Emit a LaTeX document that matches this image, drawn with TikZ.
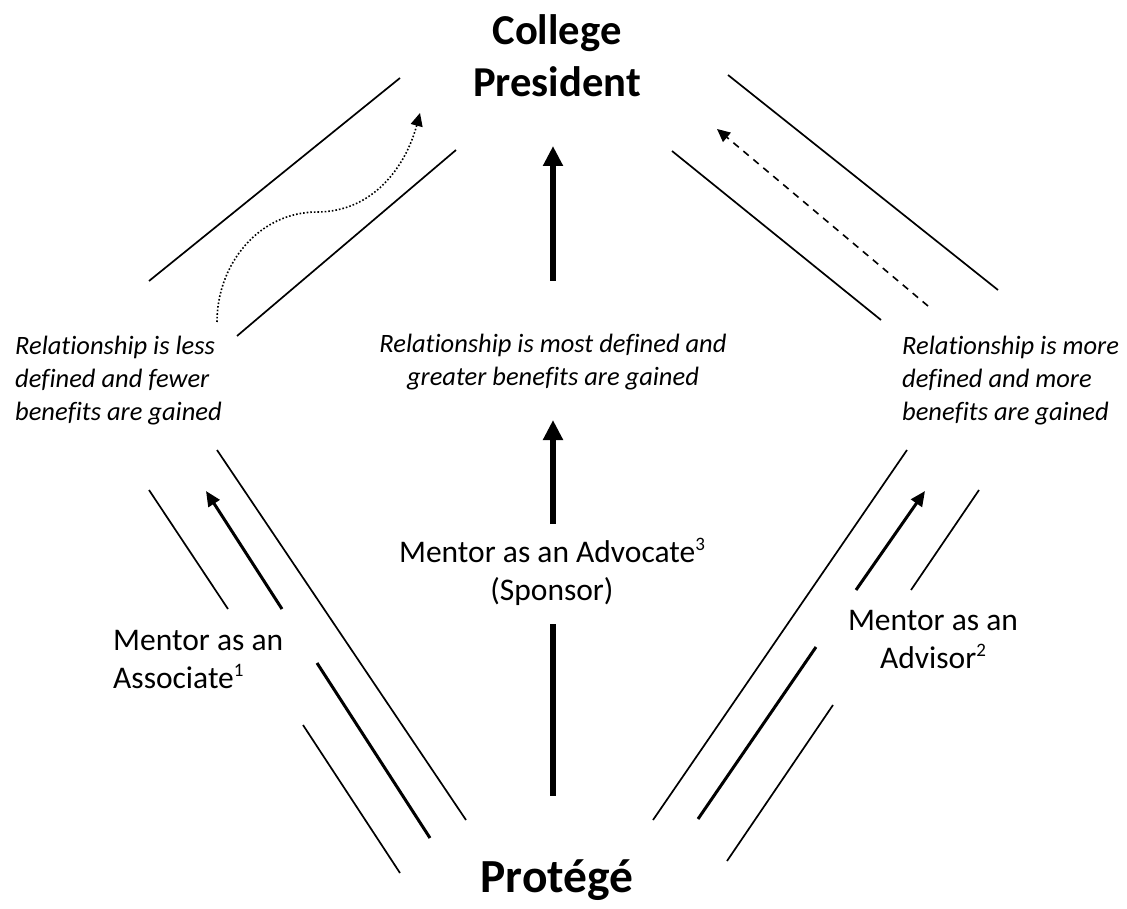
\documentclass[tikz,border=0pt]{standalone}
\usepackage{fontspec}
\setmainfont{Carlito}[Ligatures=NoCommon]
\usetikzlibrary{arrows.meta}
\newcommand\supnum[1]{\raisebox{0.36em}{\fontsize{19}{19}\selectfont #1}}
\begin{document}
\begin{tikzpicture}[x=1pt,y=-1pt,
  thinline/.style={line width=1.7pt, line cap=butt},
  sidearrow/.style={line width=3pt, -{Triangle[length=15pt,width=13pt]}},
  sidebar/.style={line width=3pt},
  midarrow/.style={line width=6pt, -{Triangle[length=20pt,width=19pt]}},
  midbar/.style={line width=6pt},
  dotarrow/.style={line width=1.6pt, dotted, -{Triangle[length=13pt,width=12pt]}},
  dasharrow/.style={line width=1.6pt, dash pattern=on 7pt off 6pt, -{Triangle[length=13pt,width=12pt]}},
  title/.style={font=\fontsize{42.6}{52}\selectfont\bfseries, align=center, inner sep=0pt, anchor=base},
  note/.style={font=\fontsize{26.5}{33}\selectfont\itshape, inner sep=0pt, anchor=base west, align=left},
  mentor/.style={font=\fontsize{31.5}{38}\selectfont, inner sep=0pt, anchor=base, align=center}
]
\useasboundingbox (0,0) rectangle (1127,909);

% texts (anchor = baseline of last line)
\node[title] (pres) at (557,97) {College\\President};
\node[title, font=\fontsize{47.5}{52}\selectfont\bfseries] (prot) at (557,892) {Protégé};
\node[note] (lnote) at (15,420) {Relationship is less\\defined and fewer\\benefits are gained};
\node[note, anchor=base, align=center] (cnote) at (553,385) {Relationship is most defined and\\greater benefits are gained};
\node[note] (rnote) at (902,420) {Relationship is more\\defined and more\\benefits are gained};
\node[mentor, anchor=base west, align=left] (assoc) at (113,688) {Mentor as an\\Associate\supnum{1}};
\node[mentor] (advoc) at (552,600) {Mentor as an Advocate\supnum{3}\\(Sponsor)};
\node[mentor] (advis) at (933,668) {Mentor as an\\Advisor\supnum{2}};

% coordinates
\coordinate (ul1a) at (149,281); \coordinate (ul1b) at (400,78);
\coordinate (ul2a) at (237,336); \coordinate (ul2b) at (456,150);
\coordinate (dota) at (217,322); \coordinate (dotm) at (317,212); \coordinate (dotb) at (420,113);
\coordinate (ur1a) at (728,75); \coordinate (ur1b) at (998,290);
\coordinate (ur2a) at (672,151); \coordinate (ur2b) at (881,320);
\coordinate (dasha) at (928,306); \coordinate (dashb) at (717,129);

\coordinate (ll1a) at (217,450); \coordinate (ll1b) at (466,820);
\coordinate (ll2a) at (149,490); \coordinate (ll2b) at (228,609);
\coordinate (lara) at (282,609); \coordinate (larb) at (206,491);
\coordinate (lbara) at (317,663); \coordinate (lbarb) at (430,838);
\coordinate (ll3a) at (303,725); \coordinate (ll3b) at (400,873);

\coordinate (lr1a) at (907,450); \coordinate (lr1b) at (653,820);
\coordinate (lr2a) at (979,490); \coordinate (lr2b) at (911,590);
\coordinate (rara) at (856,590); \coordinate (rarb) at (925,491);
\coordinate (rbara) at (816,647); \coordinate (rbarb) at (698,819);
\coordinate (lr3a) at (833,705); \coordinate (lr3b) at (727,861);

\coordinate (m1a) at (553,281); \coordinate (m1b) at (553,146);
\coordinate (m2a) at (553,524); \coordinate (m2b) at (553,420);
\coordinate (m3a) at (553,624); \coordinate (m3b) at (553,796);

% upper left
\draw[thinline] (ul1a) -- (ul1b);
\draw[thinline] (ul2a) -- (ul2b);
\draw[dotarrow] (dota) to[out=90,in=180] (dotm) to[out=0,in=-105] (dotb);
% upper right
\draw[thinline] (ur1a) -- (ur1b);
\draw[thinline] (ur2a) -- (ur2b);
\draw[dasharrow] (dasha) -- (dashb);
% lower left
\draw[thinline] (ll1a) -- (ll1b);
\draw[thinline] (ll2a) -- (ll2b);
\draw[sidearrow] (lara) -- (larb);
\draw[sidebar] (lbara) -- (lbarb);
\draw[thinline] (ll3a) -- (ll3b);
% lower right
\draw[thinline] (lr1a) -- (lr1b);
\draw[thinline] (lr2a) -- (lr2b);
\draw[sidearrow] (rara) -- (rarb);
\draw[sidebar] (rbara) -- (rbarb);
\draw[thinline] (lr3a) -- (lr3b);
% middle
\draw[midarrow] (m1a) -- (m1b);
\draw[midarrow] (m2a) -- (m2b);
\draw[midbar] (m3a) -- (m3b);
\end{tikzpicture}
\end{document}
